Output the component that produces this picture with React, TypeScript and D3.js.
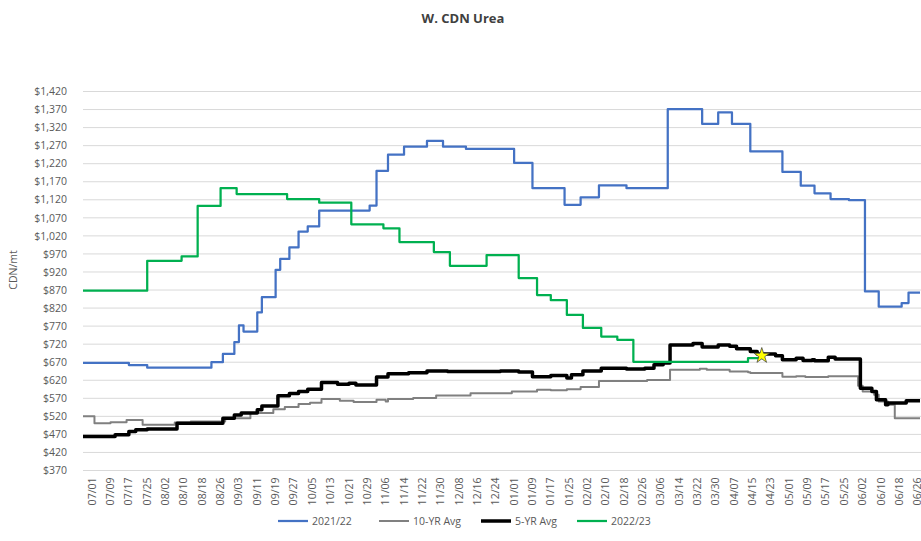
import React from 'react'
import * as d3 from 'd3'

const width = 921
const height = 541
const plot = { left: 83, right: 920, top: 91.5, bottom: 470.5 }
const font = '"Open Sans", "Liberation Sans", sans-serif'

// season runs 07/01 .. 06/30, day index from 07/01
const monthStart: Record<string, number> = {
  '07': 0, '08': 31, '09': 62, '10': 92, '11': 123, '12': 153,
  '01': 184, '02': 215, '03': 243, '04': 274, '05': 304, '06': 335,
}
const dayOf = (md: string) => monthStart[md.slice(0, 2)] + Number(md.slice(3)) - 1

const xTickLabels = [
  '07/01', '07/09', '07/17', '07/25', '08/02', '08/10', '08/18', '08/26', '09/03', '09/11',
  '09/19', '09/27', '10/05', '10/13', '10/21', '10/29', '11/06', '11/14', '11/22', '11/30',
  '12/08', '12/16', '12/24', '01/01', '01/09', '01/17', '01/25', '02/02', '02/10', '02/18',
  '02/26', '03/06', '03/14', '03/22', '03/30', '04/07', '04/15', '04/23', '05/01', '05/09',
  '05/17', '05/25', '06/02', '06/10', '06/18', '06/26',
]
const yTicks = d3.range(370, 1421, 50)

// price change dates and the price from that date on
const blueDates = ['07/01', '07/21', '07/29', '08/26', '08/31', '09/05', '09/07', '09/09', '09/15', '09/17',
  '09/23', '09/25', '09/29', '10/03', '10/07', '10/12', '11/03', '11/06', '11/11', '11/18',
  '11/28', '12/05', '12/15', '01/05', '01/13', '01/27', '02/03', '02/11', '02/23', '03/13',
  '03/28', '04/04', '04/10', '04/18', '05/02', '05/10', '05/16', '05/23', '05/31', '06/07',
  '06/13', '06/23', '06/26']
const blueValues = [668, 662, 655, 670, 693, 726, 772, 755, 808, 850,
  926, 956, 988, 1032, 1046, 1090, 1104, 1200, 1245, 1267,
  1283, 1267, 1261, 1222, 1152, 1106, 1127, 1160, 1152, 1371,
  1330, 1362, 1330, 1254, 1197, 1159, 1138, 1122, 1119, 866,
  824, 834, 863]

const grayDates = ['07/01', '07/06', '07/13', '07/20', '07/27', '08/10', '08/17', '09/01', '09/12', '09/22',
  '09/27', '10/03', '10/08', '10/13', '10/21', '10/27', '11/06', '11/10', '11/11', '11/22',
  '12/02', '12/17', '01/04', '01/15', '01/21', '01/28', '02/03', '02/11', '03/04', '03/14',
  '03/27', '03/30', '04/09', '04/17', '04/18', '05/02', '05/08', '05/12', '05/22', '06/04',
  '06/06', '06/11', '06/13', '06/17', '06/20']
const grayValues = [520, 501, 504, 510, 497, 503, 506, 515, 529, 540,
  546, 554, 558, 568, 563, 560, 566, 561, 568, 571,
  578, 584, 589, 594, 592, 595, 601, 618, 621, 649,
  652, 649, 644, 642, 640, 630, 631, 629, 631, 605,
  589, 580, 561, 552, 515]

const blackDates = ['07/01', '07/15', '07/21', '07/24', '07/29', '08/11', '08/31', '09/05', '09/08', '09/15',
  '09/17', '09/24', '09/29', '10/03', '10/07', '10/13', '10/20', '10/25', '10/28', '11/06',
  '11/11', '11/20', '11/28', '12/07', '12/30', '01/07', '01/13', '01/21', '01/28', '01/30',
  '02/04', '02/12', '02/23', '03/03', '03/07', '03/11', '03/14', '03/24', '03/28', '04/04',
  '04/09', '04/12', '04/18', '04/21', '04/29', '05/02', '05/08', '05/11', '05/15', '05/16',
  '05/22', '05/25', '06/05', '06/10', '06/12', '06/16', '06/17', '06/25']
const blackValues = [464, 469, 478, 483, 485, 501, 515, 524, 529, 538,
  549, 577, 583, 589, 595, 614, 609, 612, 607, 629,
  638, 641, 646, 644, 646, 643, 630, 633, 626, 635,
  646, 653, 651, 653, 663, 668, 718, 722, 712, 718,
  714, 707, 700, 693, 688, 677, 681, 675, 677, 674,
  684, 679, 598, 589, 566, 552, 557, 563]

const greenDates = ['07/01', '07/29', '08/13', '08/20', '08/30', '09/06', '09/28', '10/12', '10/26', '11/09',
  '11/16', '12/01', '12/08', '12/24', '01/07', '01/15', '01/21', '01/28', '02/04', '02/12',
  '02/19', '02/26', '04/17', '04/23']
const greenValues = [868, 951, 963, 1103, 1152, 1136, 1122, 1112, 1052, 1041,
  1003, 975, 937, 967, 903, 856, 842, 801, 765, 741,
  732, 671, 681, 688]

const series = [
  { name: '2021/22', dates: blueDates, values: blueValues, color: '#4472C4', w: 2.25, full: true },
  { name: '10-YR Avg', dates: grayDates, values: grayValues, color: '#808080', w: 2, full: true },
  { name: '5-YR Avg', dates: blackDates, values: blackValues, color: '#000000', w: 3.5, full: true },
  { name: '2022/23', dates: greenDates, values: greenValues, color: '#00B050', w: 2.25, full: false },
]

const x = d3.scaleLinear().domain([0, 365]).range([plot.left, plot.right])
const y = d3.scaleLinear().domain([370, 1420]).range([plot.bottom, plot.top])

const line = d3
  .line<[number, number]>()
  .x((d) => x(d[0]))
  .y((d) => y(d[1]))
  .curve(d3.curveStepAfter)

function App() {
  const paths = series.map((s) => {
    const pts: [number, number][] = s.dates.map((d, i) => [dayOf(d), s.values[i]])
    // hold the last price to the end of the season
    if (s.full) pts.push([365, s.values[s.values.length - 1]])
    return (
      <path key={s.name} d={line(pts) || ''} fill="none" stroke={s.color}
        strokeWidth={s.w} strokeLinejoin="round" />
    )
  })

  const lastGreen = greenDates.length - 1
  const star = d3.symbol(d3.symbolStar, 75)()

  const legendX = [278, 379, 481, 577]

  return (
    <svg width={width} height={height}
      style={{ position: 'absolute', left: 0, top: 0, background: '#fff' }}
      fontFamily={font}>
      <text x={463} y={23} textAnchor="middle" fontSize={13} fontWeight="bold" fill="#404040">
        W. CDN Urea
      </text>
      {yTicks.map((t) => (
        <g key={t}>
          <line x1={plot.left} x2={width} y1={y(t)} y2={y(t)} stroke="#d9d9d9" strokeWidth={1} />
          <text x={67} y={y(t)} dy="0.35em" textAnchor="end" fontSize={10.5} fill="#595959">
            {d3.format('$,')(t)}
          </text>
        </g>
      ))}
      <text transform="translate(17,270) rotate(-90)" textAnchor="middle" fontSize={10.5} fill="#595959">
        CDN/mt
      </text>
      {xTickLabels.map((l) => (
        <text key={l} transform={`translate(${x(dayOf(l)) + 9},${plot.bottom + 7}) rotate(-90)`}
          textAnchor="end" dy="0.35em" fontSize={10.5} fill="#595959">
          {l}
        </text>
      ))}
      {paths}
      <path d={star || ''}
        transform={`translate(${x(dayOf(greenDates[lastGreen]))},${y(greenValues[lastGreen])})`}
        fill="#FFFF00" stroke="#404040" strokeWidth={0.75} />
      {series.map((s, i) => (
        <g key={s.name} transform={`translate(${legendX[i]},521)`}>
          <line x1={0} x2={30} y1={0} y2={0} stroke={s.color} strokeWidth={s.w} />
          <text x={34} y={0} dy="0.35em" fontSize={10.5} fill="#595959">{s.name}</text>
        </g>
      ))}
    </svg>
  )
}

export default App
